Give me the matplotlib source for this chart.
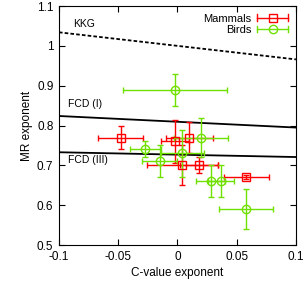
import matplotlib
matplotlib.use("Agg")
import matplotlib.pyplot as plt
from matplotlib.lines import Line2D
from matplotlib.legend_handler import HandlerBase

plt.rcParams['font.family'] = ['Liberation Sans', 'DejaVu Sans']

# ---------------- data ----------------
mam_x = [-0.048, -0.002, 0.010, 0.004, 0.018, 0.058]
mam_y = [0.77, 0.76, 0.77, 0.70, 0.70, 0.67]
mam_xerr = [0.019, 0.012, 0.020, 0.030, 0.016, 0.019]
mam_yerr = [0.030, 0.055, 0.040, 0.050, 0.020, 0.005]

bird_x = [-0.002, 0.020, -0.027, 0.004, -0.015, 0.028, 0.037, 0.058]
bird_y = [0.89, 0.77, 0.74, 0.73, 0.71, 0.66, 0.66, 0.59]
bird_xerr = [0.044, 0.023, 0.013, 0.018, 0.015, 0.012, 0.011, 0.023]
bird_yerr = [0.040, 0.050, 0.020, 0.060, 0.040, 0.040, 0.040, 0.050]

line_x = [-0.1, 0.1]
kkg_y = [1.034, 0.966]
fcd1_y = [0.824, 0.795]
fcd3_y = [0.733, 0.721]

red = "#ff0000"
green = "#70e000"


# gnuplot-like legend sample: horizontal bar with caps and a marker
class HandlerXErr(HandlerBase):
    def create_artists(self, legend, orig_handle, xdescent, ydescent,
                       width, height, fontsize, trans):
        c = orig_handle.get_color()
        y = height / 2 - ydescent
        x0, x1 = -xdescent, width - xdescent
        cap = 2.5
        arts = [
            Line2D([x0, x1], [y, y], color=c, lw=1),
            Line2D([x0, x0], [y - cap, y + cap], color=c, lw=1),
            Line2D([x1, x1], [y - cap, y + cap], color=c, lw=1),
            Line2D([(x0 + x1) / 2], [y], marker=orig_handle.get_marker(),
                   color=c, mfc="none", ms=orig_handle.get_markersize(),
                   mew=1, lw=0),
        ]
        for a in arts:
            a.set_transform(trans)
        return arts


fig = plt.figure(figsize=(3.07, 2.86), dpi=100)
ax = fig.add_axes([0.192, 0.143, 0.772, 0.836])

ax.plot(line_x, kkg_y, color="black", linestyle=(0, (2, 1.2)), linewidth=1.3)
ax.plot(line_x, fcd1_y, color="black", linewidth=1.3)
ax.plot(line_x, fcd3_y, color="black", linewidth=1.3)

ax.errorbar(mam_x, mam_y, xerr=mam_xerr, yerr=mam_yerr, fmt="s",
            color=red, mfc="none", ms=5.5, mew=1, elinewidth=1,
            capsize=2, zorder=3)
ax.errorbar(bird_x, bird_y, xerr=bird_xerr, yerr=bird_yerr, fmt="o",
            color=green, mfc="none", ms=6, mew=1, elinewidth=1,
            capsize=2, zorder=3)

ax.text(-0.088, 1.047, "KKG", fontsize=7.5)
ax.text(-0.092, 0.846, "FCD (I)", fontsize=7.5)
ax.text(-0.092, 0.706, "FCD (III)", fontsize=7.5)

ax.set_xlim(-0.1, 0.1)
ax.set_ylim(0.5, 1.1)
ax.set_xticks([-0.1, -0.05, 0, 0.05, 0.1])
ax.set_xticklabels(["-0.1", "-0.05", "0", "0.05", "0.1"])
ax.set_yticks([0.5, 0.6, 0.7, 0.8, 0.9, 1.0, 1.1])
ax.set_yticklabels(["0.5", "0.6", "0.7", "0.8", "0.9", "1", "1.1"])
ax.tick_params(direction="in", top=True, right=True, labelsize=8.5,
               length=4, width=0.8, pad=4)
ax.set_xlabel("C-value exponent", fontsize=8.5, labelpad=3)
ax.set_ylabel("MR exponent", fontsize=8.5, labelpad=3)

h_mam = Line2D([], [], color=red, marker="s", ms=5.5)
h_bird = Line2D([], [], color=green, marker="o", ms=6)
ax.legend([h_mam, h_bird], ["Mammals", "Birds"], loc="upper right",
          frameon=False, markerfirst=False, fontsize=8, handlelength=2.8,
          handletextpad=0.5, labelspacing=0.1, borderaxespad=0.3,
          handler_map={Line2D: HandlerXErr()})

fig.savefig("out.png", dpi=100)
